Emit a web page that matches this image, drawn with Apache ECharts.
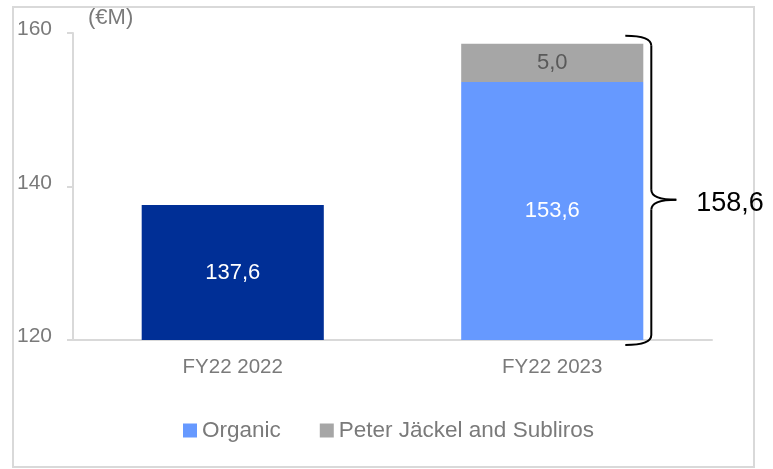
<!DOCTYPE html>
<html>
<head>
<meta charset="utf-8">
<script src="https://cdn.jsdelivr.net/npm/echarts@6/dist/echarts.min.js"></script>
<style>
html,body{margin:0;padding:0;background:#fff;}
#chart{width:773px;height:469px;}
</style>
</head>
<body>
<div id="chart"></div>
<script>
var categories = ['FY22 2022', 'FY22 2023'];
var organicValues = [137.6, 153.6];
var acquisitionValues = ['-', 5.0];
var totalLabel = '158,6';
var unitLabel = '(€M)';
var seriesNames = ['Organic', 'Peter Jäckel and Subliros'];
var yMin = 120, yMax = 160, yInterval = 20;

var FONT = '"Liberation Sans", Arial, sans-serif';
function fmt(v) { return Number(v).toFixed(1).replace('.', ','); }

var chart = echarts.init(document.getElementById('chart'), null, {renderer: 'canvas'});

var option = {
  animation: false,
  backgroundColor: '#fff',
  textStyle: {fontFamily: FONT},
  title: {
    text: unitLabel, left: 83, top: 2,
    textStyle: {fontFamily: FONT, fontSize: 22, fontWeight: 'normal', color: '#7a7a7a'}
  },
  grid: {left: 73, right: 61, top: 33, bottom: 129, containLabel: false},
  legend: {
    left: 178, top: 414, itemWidth: 14, itemHeight: 14, itemGap: 39, itemTextGap: 7,
    icon: 'rect',
    textStyle: {fontFamily: FONT, fontSize: 22.5, color: '#7a7a7a'},
    data: seriesNames
  },
  xAxis: {
    type: 'category', data: categories,
    axisLine: {lineStyle: {color: '#d9d9d9', width: 2}},
    axisTick: {show: false},
    axisLabel: {fontFamily: FONT, fontSize: 20.5, color: '#7a7a7a', margin: 17}
  },
  yAxis: {
    type: 'value', min: yMin, max: yMax, interval: yInterval,
    axisLine: {show: true, lineStyle: {color: '#d9d9d9', width: 2}},
    axisTick: {show: true, length: 6, lineStyle: {color: '#d9d9d9', width: 2}},
    splitLine: {show: false},
    axisLabel: {fontFamily: FONT, fontSize: 21, color: '#7a7a7a', margin: 21, verticalAlign: 'bottom', padding: [0,0,-7,0]}
  },
  series: [
    {
      name: seriesNames[0], type: 'bar', stack: 'total', barWidth: '57%',
      itemStyle: {color: '#6699ff'},
      data: organicValues.map(function (v, i) {
        return i === 0 ? {value: v, itemStyle: {color: '#002f96'}} : v;
      }),
      label: {
        show: true, position: 'inside', color: '#ffffff', fontFamily: FONT, fontSize: 22,
        formatter: function (p) { return fmt(p.value); }
      }
    },
    {
      name: seriesNames[1], type: 'bar', stack: 'total', barWidth: '57%',
      itemStyle: {color: '#a6a6a6'},
      data: acquisitionValues,
      label: {
        show: true, position: 'inside', color: '#595959', fontFamily: FONT, fontSize: 22,
        formatter: function (p) { return fmt(p.value); }
      }
    }
  ]
};
chart.setOption(option);

// Annotation brace around the stacked total of the second bar, positioned via the chart's scales
var idx = 1;
var total = organicValues[idx] + acquisitionValues[idx];
var topPt = chart.convertToPixel({gridIndex: 0}, [idx, total]);
var basePt = chart.convertToPixel({gridIndex: 0}, [idx, yMin]);
var catW = chart.convertToPixel({xAxisIndex: 0}, categories[1]) - chart.convertToPixel({xAxisIndex: 0}, categories[0]);
var barRight = topPt[0] + catW * 0.57 / 2;
var x0 = barRight - 18, x1 = barRight + 8, x2 = barRight + 33;
var yTop = topPt[1] - 8, yBot = basePt[1] + 5;
var yMid = basePt[1] - (basePt[1] - topPt[1]) * 0.473;
var r = 10;
var bs = {stroke: '#000', lineWidth: 2, fill: 'none'};
function bez(ax, ay, cx, cy, bx, by) {
  return {type: 'bezierCurve', z: 10, shape: {x1: ax, y1: ay, cpx1: cx, cpy1: cy, x2: bx, y2: by}, style: bs};
}
function ln(ax, ay, bx, by) {
  return {type: 'line', z: 10, shape: {x1: ax, y1: ay, x2: bx, y2: by}, style: bs};
}

chart.setOption({
  graphic: [
    {type: 'rect', shape: {x: 13, y: 7, width: 741, height: 460}, silent: true, z: -1,
     style: {fill: 'none', stroke: '#d9d9d9', lineWidth: 2}},
    bez(x0, yTop, x1, yTop, x1, yTop + r),
    ln(x1, yTop + r, x1, yMid - r),
    bez(x1, yMid - r, x1, yMid, x2, yMid),
    bez(x2, yMid, x1, yMid, x1, yMid + r),
    ln(x1, yMid + r, x1, yBot - r),
    bez(x1, yBot - r, x1, yBot, x0, yBot),
    {type: 'text', x: x2 + 20, y: yMid + 4, z: 10,
     style: {text: totalLabel, fill: '#000', font: '27px "Liberation Sans", Arial, sans-serif', verticalAlign: 'middle', align: 'left'}}
  ]
});
</script>
</body>
</html>
